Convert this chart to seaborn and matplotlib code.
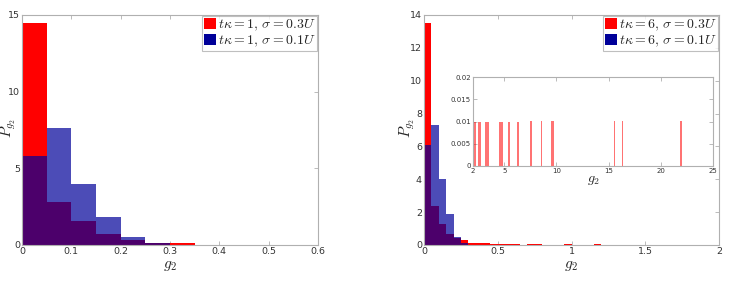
import numpy as np
import pandas as pd
import matplotlib
matplotlib.use("Agg")
import matplotlib.pyplot as plt
import seaborn as sns
from matplotlib.patches import Patch

sns.set_theme(style="white")
plt.rcParams["font.family"] = ["DejaVu Sans"]
plt.rcParams["mathtext.fontset"] = "cm"

# ---------------- data ----------------
bin_w = 0.05
# left panel (t kappa = 1)
left_red = [14.5, 2.8, 1.55, 0.7, 0.35, 0.15, 0.1, 0.03, 0.02]
left_blue = [5.8, 7.6, 3.95, 1.8, 0.55, 0.12, 0.02]
# right panel (t kappa = 6)
right_red = [13.5, 2.4, 1.3, 0.65, 0.45, 0.3, 0.15, 0.12, 0.1, 0.06,
             0.05, 0.08, 0.06, 0.0, 0.04, 0.04, 0.03, 0.0, 0.03, 0.04,
             0.03, 0.0, 0.0, 0.04, 0.0, 0.0, 0.0, 0.0, 0.0, 0.0,
             0.0, 0.0, 0.0, 0.0, 0.0, 0.0, 0.0, 0.0, 0.0, 0.0]
right_blue = [6.1, 7.3, 4.0, 1.9, 0.5, 0.1, 0.02]
# inset: rare large-g2 events
inset_x = [2.0, 2.13, 2.5, 2.74, 3.2, 3.35, 3.48, 4.5, 4.74, 4.84, 5.4,
           6.26, 7.5, 8.6, 9.6, 9.65, 15.6, 16.35, 21.9]
inset_h = [0.02, 0.01, 0.01, 0.01, 0.01, 0.01, 0.01, 0.01, 0.01, 0.01,
           0.01, 0.01, 0.01, 0.01, 0.01, 0.01, 0.01, 0.01, 0.01]

left_labels = [r"$t\kappa = 1,\, \sigma = 0.3U$", r"$t\kappa = 1,\, \sigma = 0.1U$"]
right_labels = [r"$t\kappa = 6,\, \sigma = 0.3U$", r"$t\kappa = 6,\, \sigma = 0.1U$"]

RED = "#ff0000"
BLUE = "#000099"
SPINE = "#b0b0b0"

fig = plt.figure(figsize=(7.29, 2.82), dpi=100)
axL = fig.add_axes([22/729, 37/282, 296/729, 230/282])
axR = fig.add_axes([424/729, 37/282, 295/729, 230/282])
axI = fig.add_axes([473/729, 116/282, 240/729, 89/282])


def hist(ax, heights, color, alpha, width):
    n = len(heights)
    edges = [i * width for i in range(n + 1)]
    df = pd.DataFrame({"g": [e + width / 2 for e in edges[:-1]],
                       "w": list(heights)})
    sns.histplot(data=df, x="g", weights="w", bins=edges, ax=ax, color=color,
                 alpha=alpha, edgecolor="none", linewidth=0, stat="count")


def style(ax, fs=6.8):
    for s in ax.spines.values():
        s.set_color(SPINE)
        s.set_linewidth(0.8)
    ax.tick_params(direction="in", length=3, width=0.6, color=SPINE,
                   labelsize=fs, labelcolor="#333333", top=True, right=True,
                   pad=1.5, bottom=True, left=True)


for ax, red, blue, labels, xmax, ymax, xt, yt, lx in [
        (axL, left_red, left_blue, left_labels, 0.6, 15,
         [0, 0.1, 0.2, 0.3, 0.4, 0.5, 0.6], [0, 5, 10, 15], -0.045),
        (axR, right_red, right_blue, right_labels, 2.0, 14,
         [0, 0.5, 1, 1.5, 2], list(range(0, 15, 2)), -0.058)]:
    hist(ax, red, RED, 1.0, bin_w)
    hist(ax, blue, BLUE, 0.7, bin_w)
    ax.set_xlim(0, xmax)
    ax.set_ylim(0, ymax)
    ax.set_xticks(xt)
    ax.set_yticks(yt)
    ax.set_xticklabels([("%g" % v) for v in xt])
    ax.set_yticklabels([("%g" % v) for v in yt])
    style(ax)
    ax.set_xlabel(r"$g_2$", fontsize=11)
    ax.xaxis.set_label_coords(0.5, -0.055)
    ax.set_ylabel(r"$P_{g_2}$", fontsize=11, va="center")
    ax.yaxis.set_label_coords(lx, 0.51)
    handles = [Patch(facecolor=RED, edgecolor="none"),
               Patch(facecolor=BLUE, edgecolor="none")]
    leg = ax.legend(handles, labels, loc="upper right", fontsize=10,
                    handlelength=0.9, handleheight=0.9, handletextpad=0.1,
                    borderpad=0.12, labelspacing=0.02, borderaxespad=0.05,
                    frameon=True, fancybox=False)
    leg.get_frame().set_edgecolor(SPINE)
    leg.get_frame().set_linewidth(0.8)

# inset
inset_df = pd.DataFrame({"g": inset_x, "w": inset_h})
inset_bins = [2.0 + 0.125 * i for i in range(185)]
sns.histplot(data=inset_df, x="g", weights="w", bins=inset_bins,
             ax=axI, color=RED, alpha=0.55, edgecolor="none", linewidth=0,
             stat="count")
axI.set_xlim(2, 25)
axI.set_ylim(0, 0.02)
axI.set_xticks([2, 5, 10, 15, 20, 25])
axI.set_xticklabels(["2", "5", "10", "15", "20", "25"])
axI.set_yticks([0, 0.005, 0.01, 0.015, 0.02])
axI.set_yticklabels(["0", "0.005", "0.01", "0.015", "0.02"])
style(axI, fs=5)
axI.set_xlabel(r"$g_2$", fontsize=10, labelpad=-1)
axI.set_ylabel("")

fig.savefig("out.png", dpi=100)
